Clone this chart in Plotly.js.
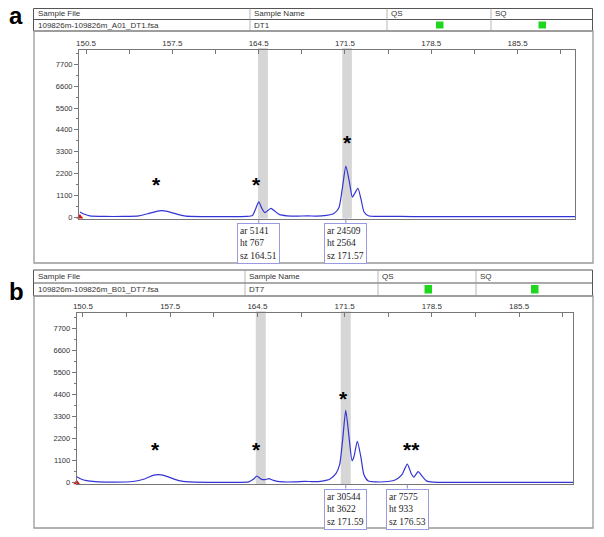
<!DOCTYPE html>
<html>
<head>
<meta charset="utf-8">
<script src="https://cdn.plot.ly/plotly-3.0.1.min.js"></script>
<style>
  body { margin: 0; background: #fff; }
  #plot { width: 604px; height: 537px; }
</style>
</head>
<body>
<div id="plot"></div>
<script>
/* electropherogram data, size (bp) vs RFU */

var sizeA = [150.0, 150.3, 150.8, 152.0, 153.5, 154.8, 155.6, 156.3, 156.7, 157.3, 158.0, 158.6, 160.0, 162.0,
  163.5, 164.0, 164.25, 164.51, 164.75, 165.0, 165.25, 165.5, 165.8, 166.2, 166.8, 167.5, 168.5, 169.2,
  170.0, 170.6, 171.0, 171.3, 171.57, 171.85, 172.1, 172.3, 172.55, 172.8, 173.05, 173.4, 174.0, 176.0,
  178.0, 182.0, 186.0, 190.2];
var rfuA = [250, 150, 60, 30, 30, 60, 180, 300, 320, 250, 120, 40, 20, 20,
  30, 80, 400, 767, 450, 220, 330, 440, 300, 120, 60, 40, 60, 40,
  80, 180, 450, 1500, 2564, 1800, 1000, 1200, 1450, 900, 250, 60, 30, 30,
  20, 20, 20, 20];

var sizeB = [150.0, 150.3, 150.8, 151.5, 153.0, 154.5, 155.5, 156.2, 156.8, 157.4, 158.2, 159.0, 160.5, 163.0,
  163.8, 164.2, 164.45, 164.8, 165.1, 165.4, 165.8, 166.3, 167.5, 168.3, 169.0, 169.7, 170.3, 170.8,
  171.1, 171.35, 171.59, 171.85, 172.1, 172.25, 172.52, 172.8, 173.05, 173.4, 174.0, 175.0, 175.6, 176.1,
  176.53, 176.85, 177.05, 177.4, 177.75, 178.1, 178.6, 180.0, 185.0, 189.9];
var rfuB = [300, 200, 100, 50, 30, 60, 200, 380, 390, 280, 100, 40, 20, 20,
  40, 180, 335, 180, 150, 200, 120, 50, 40, 70, 50, 80, 170, 450,
  900, 2200, 3622, 2300, 1100, 1300, 2070, 1300, 400, 80, 40, 60, 150, 400,
  933, 450, 280, 550, 300, 80, 30, 20, 20, 20];

/* called peaks */
var peakSzA = [164.51, 171.57];
var peakArA = [5141, 24509];
var peakHtA = [767, 2564];
var peakSzB = [171.59, 176.53];
var peakArB = [30544, 7575];
var peakHtB = [3622, 933];

/* grey bins */
var binStartA = [164.45, 171.28];
var binEndA = [165.25, 172.06];
var binStartB = [164.37, 171.19];
var binEndB = [165.17, 171.99];

/* asterisks */
var starXA = [156.2, 164.35, 171.7];
var starYA = [1870, 1870, 4030];
var starTA = ['*', '*', '*'];
var starXB = [156.3, 164.45, 171.4, 176.9];
var starYB = [1920, 1890, 4470, 1890];
var starTB = ['*', '*', '*', '**'];

var headerCols = ['Sample File', 'Sample Name', 'QS', 'SQ'];
var fileNameA = '109826m-109826m_A01_DT1.fsa';
var fileNameB = '109826m-109826m_B01_DT7.fsa';
var sampleA = 'DT1';
var sampleB = 'DT7';

/* pixel -> paper helpers */
var W = 604, H = 537;
function px(x) { return x / W; }
function py(y) { return 1 - y / H; }

var shapes = [];
var annotations = [];

function addHeader(top, mid, bottom, seps, greens, fileName, sample) {
  shapes.push({type: 'rect', xref: 'paper', yref: 'paper', x0: px(33.5), x1: px(592.5), y0: py(top), y1: py(bottom),
    line: {color: '#555', width: 1}});
  shapes.push({type: 'line', xref: 'paper', yref: 'paper', x0: px(33.5), x1: px(592.5), y0: py(mid), y1: py(mid),
    line: {color: '#555', width: 1}});
  seps.forEach(function (s) {
    shapes.push({type: 'line', xref: 'paper', yref: 'paper', x0: px(s), x1: px(s), y0: py(top), y1: py(bottom),
      line: {color: '#999', width: 0.7}});
  });
  greens.forEach(function (g) {
    shapes.push({type: 'rect', xref: 'paper', yref: 'paper', x0: px(g), x1: px(g + 7.5), y0: py(mid + 2), y1: py(bottom - 2.5),
      fillcolor: '#1ed61e', line: {width: 0}});
  });
  var colX = [35.5, seps[0] + 2, seps[1] + 2, seps[2] + 2];
  headerCols.forEach(function (t, i) {
    annotations.push({xref: 'paper', yref: 'paper', x: px(colX[i]), y: py((top + mid) / 2), xanchor: 'left', yanchor: 'middle',
      text: t, showarrow: false, font: {family: 'Arial', size: 8, color: '#333'}});
  });
  annotations.push({xref: 'paper', yref: 'paper', x: px(35.5), y: py((mid + bottom) / 2), xanchor: 'left', yanchor: 'middle',
    text: fileName, showarrow: false, font: {family: 'Arial', size: 8, color: '#333'}});
  annotations.push({xref: 'paper', yref: 'paper', x: px(seps[0] + 2), y: py((mid + bottom) / 2), xanchor: 'left', yanchor: 'middle',
    text: sample, showarrow: false, font: {family: 'Arial', size: 8, color: '#333'}});
}

function addFrame(top, bottom) {
  shapes.push({type: 'rect', xref: 'paper', yref: 'paper', x0: px(34), x1: px(593), y0: py(top), y1: py(bottom),
    line: {color: '#999', width: 1.3}});
}

function addPanel(xa, ya, binS, binE, sz, ar, ht, starX, starY, starT, axisBottom, boxTop) {
  binS.forEach(function (b, i) {
    shapes.push({type: 'rect', xref: xa, yref: ya + ' domain', x0: b, x1: binE[i], y0: 0, y1: 1.012,
      fillcolor: '#d6d6d6', line: {width: 0}, layer: 'below'});
  });
  sz.forEach(function (s, i) {
    shapes.push({type: 'line', xref: xa, yref: 'paper', x0: s, x1: s, y0: py(axisBottom), y1: py(boxTop),
      line: {color: '#8888cc', width: 1}});
    annotations.push({xref: xa, yref: 'paper', x: s, y: py(boxTop), xanchor: 'center', yanchor: 'top',
      text: 'ar ' + ar[i] + '<br>ht ' + ht[i] + '<br>sz ' + s.toFixed(2), align: 'left', showarrow: false,
      bordercolor: '#9a9ae0', borderwidth: 1, borderpad: 2, bgcolor: '#fff',
      font: {family: 'Liberation Serif', size: 9.5, color: '#222'}});
  });
  starX.forEach(function (x, i) {
    annotations.push({xref: xa, yref: ya, x: x, y: starY[i], text: '<b>' + starT[i] + '</b>', showarrow: false,
      yanchor: 'middle', yshift: -5, font: {family: 'Arial', size: 21, color: '#000'}});
  });
}

addHeader(8.5, 19.5, 31, [250, 387, 491], [436, 538.5], fileNameA, sampleA);
addFrame(31, 263);
addHeader(270, 283, 296, [245, 378, 476], [424.5, 531], fileNameB, sampleB);
addFrame(296, 528);
addPanel('x', 'y', binStartA, binEndA, peakSzA, peakArA, peakHtA, starXA, starYA, starTA, 218.5, 223.5);
addPanel('x2', 'y2', binStartB, binEndB, peakSzB, peakArB, peakHtB, starXB, starYB, starTB, 484, 488.5);

annotations.push({xref: 'paper', yref: 'paper', x: px(16), y: py(16), xanchor: 'center', yanchor: 'middle',
  text: '<b>a</b>', showarrow: false, font: {family: 'Arial', size: 24, color: '#000'}});
annotations.push({xref: 'paper', yref: 'paper', x: px(16), y: py(291), xanchor: 'center', yanchor: 'middle',
  text: '<b>b</b>', showarrow: false, font: {family: 'Arial', size: 24, color: '#000'}});

var lineStyle = {color: '#3434d4', width: 1.2, shape: 'spline', smoothing: 0.6};

var traceA = {x: sizeA, y: rfuA, type: 'scatter', mode: 'lines', line: lineStyle, xaxis: 'x', yaxis: 'y', hoverinfo: 'skip'};
var traceB = {x: sizeB, y: rfuB, type: 'scatter', mode: 'lines', line: lineStyle, xaxis: 'x2', yaxis: 'y2', hoverinfo: 'skip'};
var startA = {x: [sizeA[0]], y: [0], type: 'scatter', mode: 'markers', xaxis: 'x', yaxis: 'y',
  marker: {symbol: 'triangle-up', color: '#e01010', size: 6}, cliponaxis: false};
var startB = {x: [sizeB[0]], y: [0], type: 'scatter', mode: 'markers', xaxis: 'x2', yaxis: 'y2',
  marker: {symbol: 'triangle-up', color: '#e01010', size: 6}, cliponaxis: false};

function xAxis(dom, range, anchor) {
  return {
    domain: dom, range: range, anchor: anchor, side: 'top',
    tick0: 150.5, dtick: 7, tickformat: '.1f',
    ticks: 'inside', ticklen: 4, tickcolor: '#777',
    minor: {tick0: 150.5, dtick: 3.5, ticks: 'inside', ticklen: 4, tickcolor: '#777'},
    showline: true, linecolor: '#777', linewidth: 1, mirror: true,
    showgrid: false, zeroline: false,
    tickfont: {family: 'Arial', size: 8, color: '#333'}
  };
}
function yAxis(dom, range, anchor) {
  return {
    domain: dom, range: range, anchor: anchor,
    tick0: 0, dtick: 1100,
    ticks: 'outside', ticklen: 4, tickcolor: '#777',
    minor: {dtick: 550, ticks: 'outside', ticklen: 2, tickcolor: '#777'},
    showline: true, linecolor: '#777', linewidth: 1, mirror: true,
    showgrid: false, zeroline: false,
    tickfont: {family: 'Arial', size: 7.5, color: '#333'}
  };
}

var layout = {
  width: 604, height: 537,
  margin: {l: 0, r: 0, t: 0, b: 0},
  paper_bgcolor: '#fff',
  plot_bgcolor: 'rgba(0,0,0,0)',
  showlegend: false,
  xaxis: xAxis([px(79), px(575.3)], [149.93, 190.18], 'y'),
  yaxis: yAxis([py(218.5), py(50)], [-75, 8427], 'x'),
  xaxis2: xAxis([px(76.7), px(573.3)], [150.0, 189.85], 'y2'),
  yaxis2: yAxis([py(484), py(313.3)], [-65, 8470], 'x2'),
  shapes: shapes,
  annotations: annotations
};

Plotly.newPlot('plot', [traceA, traceB, startA, startB], layout, {displayModeBar: false, staticPlot: true});
</script>
</body>
</html>
